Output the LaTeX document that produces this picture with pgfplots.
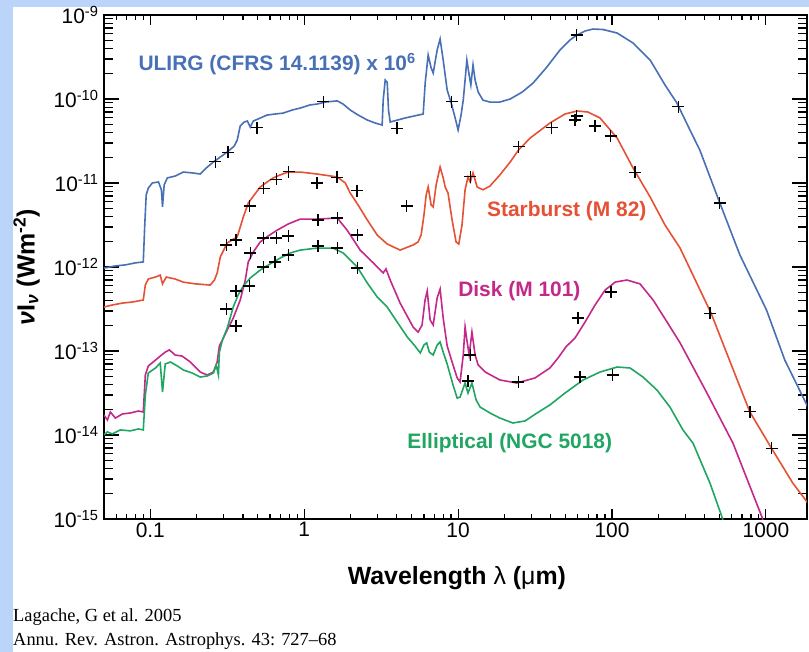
\documentclass[border=0pt]{standalone}
\usepackage{pgfplots}
\pgfplotsset{compat=1.18}
\usepackage{fontspec}
\setmainfont{Liberation Sans}
\newfontfamily\timesfont{Liberation Serif}

\definecolor{ulirg}{RGB}{72,112,182}
\definecolor{starb}{RGB}{230,80,52}
\definecolor{disk}{RGB}{196,40,138}
\definecolor{ellip}{RGB}{32,166,98}
\definecolor{border}{RGB}{187,213,250}

\begin{document}
\begin{tikzpicture}
\useasboundingbox (0bp,0bp) rectangle (809bp,652bp);
\fill[border] (0bp,0bp) rectangle (809bp,652bp);
\fill[white] (13bp,0bp) rectangle (809bp,645bp);

\begin{axis}[
    at={(104bp,133bp)}, anchor=south west,
    scale only axis, width=703bp, height=504bp,
    xmode=log, ymode=log,
    xmin=0.05, xmax=1850, ymin=1e-15, ymax=1e-9,
    xtick={0.1,1,10,100,1000},
    xticklabels={0.1,1,10,100,1000},
    ytick={1e-15,1e-14,1e-13,1e-12,1e-11,1e-10,1e-9},
    yticklabels={10\textsuperscript{-15},10\textsuperscript{-14},10\textsuperscript{-13},10\textsuperscript{-12},10\textsuperscript{-11},10\textsuperscript{-10},10\textsuperscript{-9}},
    minor xtick={0.06,0.07,0.08,0.09,0.2,0.3,0.4,0.5,0.6,0.7,0.8,0.9,2,3,4,5,6,7,8,9,20,30,40,50,60,70,80,90,200,300,400,500,600,700,800,900},
    minor ytick={2e-15,3e-15,4e-15,5e-15,6e-15,7e-15,8e-15,9e-15,2e-14,3e-14,4e-14,5e-14,6e-14,7e-14,8e-14,9e-14,2e-13,3e-13,4e-13,5e-13,6e-13,7e-13,8e-13,9e-13,2e-12,3e-12,4e-12,5e-12,6e-12,7e-12,8e-12,9e-12,2e-11,3e-11,4e-11,5e-11,6e-11,7e-11,8e-11,9e-11,2e-10,3e-10,4e-10,5e-10,6e-10,7e-10,8e-10,9e-10},
    tick align=inside,
    major tick length=12bp, minor tick length=7bp,
    xtick style={/pgfplots/major tick length=10bp,/pgfplots/minor tick length=5bp},
    ytick style={/pgfplots/major tick length=15bp,/pgfplots/minor tick length=9bp},
    every tick/.style={black, line width=1.2bp},
    axis line style={line width=1.6bp},
    ticklabel style={font=\fontsize{21}{24}\selectfont},
    yticklabel style={xshift=-2bp},
    xlabel={\bfseries Wavelength {\mdseries λ} ({\mdseries μ}m)},
    ylabel={\bfseries\itshape ν\upshape I\textsubscript{\itshape ν}\upshape{} (Wm\textsuperscript{-2})},
    xlabel style={font=\fontsize{25}{28}\selectfont, at={(axis description cs:0.502,-0.117)}, anchor=center},
    ylabel style={font=\fontsize{25}{28}\selectfont, at={(axis description cs:-0.11,0.5)}, anchor=center, rotate=0},
    clip mode=individual,
    every axis plot/.append style={line width=1.6bp},
]

% ULIRG (CFRS 14.1139) x 10^6
\addplot[ulirg] coordinates {
(0.050,0.97e-12) (0.0593,1.03e-12) (0.0689,1.06e-12) (0.080,1.12e-12) (0.090,1.15e-12)
(0.092,3.16e-12) (0.094,7.2e-12) (0.097,8.7e-12) (0.103,1.0e-11) (0.113,1.03e-11)
(0.118,8.3e-12) (0.120,5.2e-12) (0.123,9.5e-12) (0.129,1.15e-11) (0.145,1.21e-11)
(0.164,1.35e-11) (0.187,1.32e-11) (0.211,1.28e-11) (0.231,1.51e-11) (0.257,1.78e-11)
(0.285,2.04e-11) (0.316,2.34e-11) (0.351,2.75e-11) (0.367,3.25e-11) (0.384,4.78e-11)
(0.407,5.32e-11) (0.427,5.47e-11) (0.446,4.64e-11) (0.467,5.47e-11) (0.518,5.94e-11)
(0.575,6.45e-11) (0.648,6.63e-11) (0.731,6.8e-11) (0.836,7.4e-11) (0.942,7.8e-11)
(1.09,8.5e-11) (1.21,8.7e-11) (1.37,9.2e-11) (1.64,9.5e-11) (1.79,8.7e-11)
(1.99,7.4e-11) (2.24,6.45e-11) (2.57,5.62e-11) (2.89,5.18e-11) (3.21,4.9e-11)
(3.26,9.7e-11) (3.36,1.68e-10) (3.46,1.59e-10) (3.53,7.4e-11) (3.62,5.32e-11)
(4.52,5.94e-11) (5.93,6.63e-11) (6.11,1.55e-10) (6.39,3.34e-10) (6.68,2.34e-10)
(6.89,2.04e-10) (7.31,3.83e-10) (7.64,5.18e-10) (8.0,2.91e-10) (8.24,1.93e-10)
(8.49,1.28e-10) (9.02,8.96e-11) (9.57,5.94e-11) (10.0,4.28e-11) (10.45,6.45e-11)
(10.8,9.7e-11) (11.1,1.68e-10) (11.4,2.91e-10) (11.8,1.93e-10) (12.1,1.47e-10)
(12.5,2.54e-10) (12.9,1.68e-10) (13.5,1.21e-10) (14.5,9.7e-11) (16.1,9.2e-11)
(18.7,9.2e-11) (21.8,1.0e-10) (26.1,1.21e-10) (30.7,1.55e-10) (37.3,2.34e-10)
(45.9,3.83e-10) (53.3,5.04e-10) (59.3,5.78e-10) (66.8,6.45e-10) (75.3,6.81e-10)
(87.5,6.72e-10) (108,6.1e-10) (137,4.64e-10) (177,2.91e-10) (221,1.47e-10)
(264,8.96e-11) (321,4.28e-11) (372,2.47e-11) (502,5.78e-12) (678,1.39e-12)
(1009,3.08e-13) (1327,7.8e-14) (1875,2.15e-14)
};

% Starburst (M 82)
\addplot[starb] coordinates {
(0.050,3.34e-13) (0.0566,3.53e-13) (0.0658,3.72e-13) (0.0764,3.83e-13) (0.090,4.05e-13)
(0.0928,6.1e-13) (0.097,7.2e-13) (0.108,7.6e-13) (0.116,8.0e-13) (0.120,6.3e-13)
(0.127,7.6e-13) (0.145,7.2e-13) (0.164,6.6e-13) (0.196,6.3e-13) (0.245,6.1e-13)
(0.261,7.0e-13) (0.272,8.5e-13) (0.285,1.32e-12) (0.316,1.93e-12) (0.340,2.1e-12)
(0.367,2.28e-12) (0.402,3.94e-12) (0.433,5.78e-12) (0.473,7.2e-12) (0.518,8.96e-12)
(0.575,1.03e-11) (0.629,1.15e-11) (0.699,1.25e-11) (0.787,1.35e-11) (0.942,1.35e-11)
(1.21,1.28e-11) (1.64,1.18e-11) (1.85,1.0e-11) (1.99,7.6e-12) (2.24,5.47e-12)
(2.57,3.63e-12) (2.98,2.4e-12) (3.46,1.88e-12) (4.2,1.59e-12) (5.1,1.83e-12)
(5.5,1.99e-12) (5.75,2.4e-12) (6.0,4.16e-12) (6.2,7.2e-12) (6.39,8.96e-12)
(6.68,5.47e-12) (6.89,5.18e-12) (7.2,9.5e-12) (7.64,1.55e-11) (8.0,1.15e-11)
(8.24,8.96e-12) (8.6,7.6e-12) (9.14,3.63e-12) (9.7,1.99e-12) (10.1,1.88e-12)
(10.6,3.16e-12) (11.1,8.3e-12) (11.6,1.18e-11) (12.0,1.03e-11) (12.5,1.32e-11)
(13.3,8.96e-12) (14.5,8.3e-12) (16.1,9.2e-12) (18.7,1.25e-11) (21.8,1.78e-11)
(24.7,2.47e-11) (29.4,3.43e-11) (39.5,5.18e-11) (49.5,6.63e-11) (59.3,7.2e-11)
(69.8,7.0e-11) (83.6,5.94e-11) (108,3.43e-11) (137,1.51e-11) (177,6.81e-12)
(221,3.16e-12) (277,1.68e-12) (440,2.83e-13) (600,6.63e-14) (787,1.88e-14)
(1107,6.6e-15) (1495,2.68e-15) (1875,1.55e-15)
};

% Disk (M 101)
\addplot[disk] coordinates {
(0.050,1.73e-14) (0.0526,1.51e-14) (0.055,1.88e-14) (0.0593,1.59e-14) (0.0658,1.78e-14)
(0.0741,1.83e-14) (0.0836,1.93e-14) (0.090,1.88e-14) (0.0928,5.18e-14) (0.097,6.63e-14)
(0.108,7.8e-14) (0.116,8.7e-14) (0.125,9.7e-14) (0.133,1.03e-13) (0.145,8.96e-14)
(0.161,8.7e-14) (0.182,7.4e-14) (0.211,5.62e-14) (0.234,5.18e-14) (0.257,5.62e-14)
(0.272,7.4e-14) (0.281,1.15e-13) (0.294,1.35e-13) (0.316,1.78e-13) (0.346,2.47e-13)
(0.384,4.05e-13) (0.414,7.0e-13) (0.433,1.15e-12) (0.467,1.51e-12) (0.518,1.99e-12)
(0.583,2.34e-12) (0.668,2.75e-12) (0.787,3.25e-12) (0.942,3.72e-12) (1.21,3.72e-12)
(1.64,3.83e-12) (1.90,2.75e-12) (2.31,1.59e-12) (2.81,1.12e-12) (3.26,8.5e-13)
(3.4,9.5e-13) (3.62,7.0e-13) (4.2,3.72e-13) (5.1,1.93e-13) (5.5,1.68e-13)
(5.83,2.04e-13) (6.1,4.05e-13) (6.3,5.18e-13) (6.58,2.34e-13) (6.89,2.04e-13)
(7.31,4.28e-13) (7.64,5.47e-13) (8.0,2.47e-13) (8.49,1.15e-13) (9.14,7.4e-14)
(9.86,4.78e-14) (10.3,4.28e-14) (10.8,8.96e-14) (11.1,1.93e-13) (11.4,1.35e-13)
(11.8,8.96e-14) (12.3,1.68e-13) (12.9,8.96e-14) (13.5,6.81e-14) (15.0,5.62e-14)
(18.7,4.52e-14) (24.1,4.16e-14) (31.6,4.78e-14) (39.5,6.28e-14) (44.6,8.26e-14)
(50.2,1.12e-13) (57.5,1.43e-13) (66.8,2.21e-13) (77.6,3.53e-13) (90.2,5.32e-13)
(105,6.62e-13) (125,7.0e-13) (152,6.3e-13) (185,4.05e-13) (228,2.21e-13)
(277,1.25e-13) (414,3.16e-14) (611,8.0e-15) (942,1.06e-15) (1000,7.4e-16)
};

% Elliptical (NGC 5018)
\addplot[ellip] coordinates {
(0.050,1.0e-14) (0.0526,1.09e-14) (0.0566,1.03e-14) (0.0638,1.15e-14) (0.0741,1.12e-14)
(0.0836,1.18e-14) (0.090,1.15e-14) (0.0928,2.99e-14) (0.097,5.47e-14) (0.108,6.28e-14)
(0.116,7.2e-14) (0.120,3.25e-14) (0.125,7.0e-14) (0.135,7.4e-14) (0.150,6.63e-14)
(0.164,5.94e-14) (0.187,5.47e-14) (0.211,4.9e-14) (0.234,5.04e-14) (0.257,5.47e-14)
(0.268,6.81e-14) (0.277,5.18e-14) (0.281,9.7e-14) (0.294,1.35e-13) (0.316,1.88e-13)
(0.346,3.34e-13) (0.372,4.64e-13) (0.402,5.94e-13) (0.446,7.4e-13) (0.518,9.2e-13)
(0.601,1.09e-12) (0.699,1.28e-12) (0.811,1.47e-12) (0.942,1.59e-12) (1.21,1.68e-12)
(1.54,1.68e-12) (1.79,1.47e-12) (2.21,1.0e-12) (2.57,6.45e-13) (2.98,4.4e-13)
(3.46,3.34e-13) (4.02,2.21e-13) (4.67,1.47e-13) (5.18,1.18e-13) (5.68,9.5e-14)
(6.0,1.18e-13) (6.25,1.25e-13) (6.5,9.7e-14) (6.89,8.96e-14) (7.31,1.18e-13)
(7.64,1.28e-13) (8.0,9.7e-14) (8.49,7.0e-14) (9.27,3.94e-14) (9.86,2.75e-14)
(10.3,2.83e-14) (11.1,4.16e-14) (11.6,3.16e-14) (12.3,4.16e-14) (13.1,2.61e-14)
(13.9,2.15e-14) (16.1,1.83e-14) (18.7,1.59e-14) (22.7,1.39e-14) (27.2,1.47e-14)
(32.6,1.83e-14) (39.5,2.28e-14) (49.5,3.16e-14) (64.9,4.52e-14) (83.6,5.62e-14)
(108,6.45e-14) (131,6.28e-14) (159,4.9e-14) (196,3.43e-14) (238,2.15e-14)
(289,1.15e-14) (336,8.0e-15) (433,2.68e-15) (518,1.06e-15) (550,7.4e-16)
};

% photometric points
\addplot[only marks, mark=+, mark size=6bp, black, mark options={line width=1.3bp}] coordinates {
(0.264,1.79e-11) (0.320,2.32e-11) (0.493,4.55e-11) (1.33,9.3e-11) (4.0,4.48e-11)
(9.1,9.3e-11) (59,5.78e-10) (270,8.1e-11) (502,5.78e-12)
};
\addplot[only marks, mark=+, mark size=6bp, black, mark options={line width=1.3bp}] coordinates {
(0.312,1.83e-12) (0.361,2.1e-12) (0.442,5.32e-12) (0.545,8.65e-12) (0.658,1.11e-11)
(0.791,1.36e-11) (1.21,1.0e-11) (1.63,1.17e-11) (2.20,8.1e-12) (4.64,5.32e-12)
(12.0,1.19e-11) (24.7,2.7e-11) (40.6,4.55e-11) (57.5,5.62e-11) (59,6.28e-11)
(77.6,4.78e-11) (98,3.63e-11) (141,1.34e-11) (433,2.81e-13) (787,1.89e-14)
(1089,6.95e-15)
};
\addplot[only marks, mark=+, mark size=6bp, black, mark options={line width=1.3bp}] coordinates {
(0.312,3.16e-13) (0.361,5.18e-13) (0.446,1.47e-12) (0.543,2.21e-12) (0.658,2.21e-12)
(0.787,2.34e-12) (1.23,3.63e-12) (1.64,3.83e-12) (2.21,2.4e-12) (12.0,8.96e-14)
(24.6,4.28e-14) (60.1,2.47e-13) (98.6,5.04e-13)
};
\addplot[only marks, mark=+, mark size=6bp, black, mark options={line width=1.3bp}] coordinates {
(0.361,1.99e-13) (0.439,5.94e-13) (0.543,1.0e-12) (0.647,1.15e-12) (0.787,1.39e-12)
(1.23,1.78e-12) (1.64,1.68e-12) (2.21,9.7e-13) (11.6,4.4e-14) (61.9,4.9e-14)
(101,5.18e-14)
};

\node[anchor=base west, inner sep=0, text=ulirg, font=\bfseries\fontsize{21}{24}\selectfont]
  at (axis cs:0.0836,2.17e-10) {ULIRG (CFRS 14.1139) x 10\textsuperscript{6}};
\node[anchor=base west, inner sep=0, text=starb, font=\bfseries\fontsize{21}{24}\selectfont]
  at (axis cs:15.4,3.97e-12) {Starburst (M 82)};
\node[anchor=base west, inner sep=0, text=disk, font=\bfseries\fontsize{21}{24}\selectfont]
  at (axis cs:10.0,4.43e-13) {Disk (M 101)};
\node[anchor=base west, inner sep=0, text=ellip, font=\bfseries\fontsize{21}{24}\selectfont]
  at (axis cs:4.67,6.95e-15) {Elliptical (NGC 5018)};
\end{axis}

\node[anchor=base west, inner sep=0, font=\timesfont\fontsize{18.5}{22}\selectfont]
  at (13bp,30.3bp) {Lagache, G et al. 2005};
\node[anchor=base west, inner sep=0, font=\timesfont\fontsize{18.5}{22}\selectfont]
  at (13bp,7bp) {Annu. Rev. Astron. Astrophys. 43: 727–68};
\end{tikzpicture}
\end{document}
